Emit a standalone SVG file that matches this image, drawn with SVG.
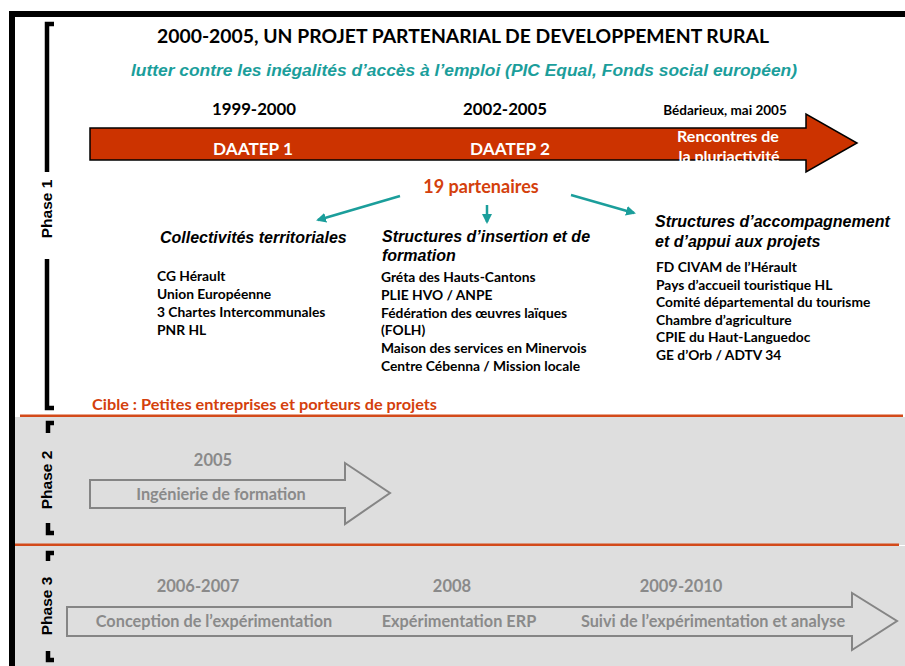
<svg xmlns="http://www.w3.org/2000/svg" width="905" height="666" viewBox="0 0 905 666">
<defs>
<style>
.cal{font-family:Lato,"Open Sans","Liberation Sans",sans-serif;font-weight:bold}
.ar{font-family:"Liberation Sans",Arial,sans-serif;font-weight:bold}
.it{font-style:italic}
.hd{font-size:16px}
.blk{fill:#000}
.wht{fill:#fff}
.teal{fill:#1B9E9B}
.org{fill:#D4400C}
.gry{fill:#8A8A8A}
.list{font-size:13.8px}
.gl{font-size:16.3px}
.brk{fill:none;stroke:#000;stroke-width:4.5}
.conn{stroke:#1B9E9B;stroke-width:2.5;fill:none}
.harrow{fill:#DEDEDE;stroke:#858585;stroke-width:2}
</style>
<marker id="ah" viewBox="0 0 10 10" refX="8" refY="5" markerWidth="4" markerHeight="4" orient="auto">
<path d="M0,0 L10,5 L0,10 z" fill="#1B9E9B"/>
</marker>
</defs>
<rect x="0" y="0" width="905" height="666" fill="#fff"/>
<!-- backgrounds -->
<rect x="15" y="417" width="890" height="128" fill="#DEDEDE"/>
<rect x="15" y="546" width="890" height="120" fill="#DEDEDE"/>
<rect x="20" y="414.5" width="883" height="2.5" fill="#D34A1A"/>
<rect x="15" y="543.5" width="884" height="2.5" fill="#D34A1A"/>
<!-- outer frame -->
<rect x="9" y="11" width="896" height="6" fill="#000"/>
<rect x="9" y="11" width="6" height="655" fill="#000"/>
<!-- phase brackets -->
<g id="phase1">
<path class="brk" d="M54,24 H47 V172"/>
<path class="brk" d="M47,259 V408 H54"/>
<text class="ar blk" font-size="15.5" transform="translate(52,209) rotate(-90)" text-anchor="middle">Phase 1</text>
</g>
<g id="phase2">
<path class="brk" d="M54,423 H48 V433"/>
<path class="brk" d="M48,523 V533 H54"/>
<text class="ar blk" font-size="15.5" transform="translate(52,480) rotate(-90)" text-anchor="middle">Phase 2</text>
</g>
<g id="phase3">
<path class="brk" d="M54,553 H48 V561"/>
<path class="brk" d="M48,651 V660 H54"/>
<text class="ar blk" font-size="15.5" transform="translate(52,606) rotate(-90)" text-anchor="middle">Phase 3</text>
</g>
<!-- header -->
<g id="title">
<text class="cal blk" x="463" y="43" font-size="18.5" text-anchor="middle" textLength="612" lengthAdjust="spacingAndGlyphs">2000-2005, UN PROJET PARTENARIAL DE DEVELOPPEMENT RURAL</text>
<text class="ar it teal" x="464" y="76" font-size="16" text-anchor="middle" textLength="666" lengthAdjust="spacingAndGlyphs">lutter contre les inégalités d’accès à l’emploi (PIC Equal, Fonds social européen)</text>
</g>
<!-- main arrow -->
<g id="timeline1">
<path d="M90,128 H806 V114 L857,143 L806,172 V160 H90 Z" fill="#CC3300" stroke="#000" stroke-width="1.5"/>
<text class="cal blk" x="254" y="115" font-size="16.8" text-anchor="middle">1999-2000</text>
<text class="cal blk" x="505" y="115" font-size="16.8" text-anchor="middle">2002-2005</text>
<text class="cal blk" x="725" y="115" font-size="13.5" text-anchor="middle">Bédarieux, mai 2005</text>
<text class="cal wht" x="253" y="155" font-size="17.2" text-anchor="middle">DAATEP 1</text>
<text class="cal wht" x="510" y="155" font-size="17.2" text-anchor="middle">DAATEP 2</text>
<text class="cal wht" x="728" y="142" font-size="16" text-anchor="middle">Rencontres de</text>
<text class="cal wht" x="729" y="162" font-size="16" text-anchor="middle">la pluriactivité</text>
</g>
<g id="partenaires">
<text class="cal org" x="481" y="193" font-size="18" text-anchor="middle">19 partenaires</text>
</g>
<g id="connectors">
<line class="conn" x1="400" y1="196" x2="318" y2="220" marker-end="url(#ah)"/>
<line class="conn" x1="487" y1="205" x2="487" y2="222" marker-end="url(#ah)"/>
<line class="conn" x1="571" y1="195" x2="634" y2="213" marker-end="url(#ah)"/>
</g>
<g id="collectivites">
<text class="ar it blk hd" x="160" y="243">Collectivités territoriales</text>
<text class="cal blk list" x="157" y="281">CG Hérault</text>
<text class="cal blk list" x="157" y="299">Union Européenne</text>
<text class="cal blk list" x="157" y="317">3 Chartes Intercommunales</text>
<text class="cal blk list" x="157" y="335">PNR HL</text>
</g>
<g id="insertion">
<text class="ar it blk hd" x="382" y="242">Structures d’insertion et de</text>
<text class="ar it blk hd" x="382" y="261">formation</text>
<text class="cal blk list" x="381" y="282">Gréta des Hauts-Cantons</text>
<text class="cal blk list" x="381" y="300">PLIE HVO / ANPE</text>
<text class="cal blk list" x="381" y="318">Fédération des œuvres laïques</text>
<text class="cal blk list" x="381" y="335">(FOLH)</text>
<text class="cal blk list" x="381" y="353">Maison des services en Minervois</text>
<text class="cal blk list" x="381" y="371">Centre Cébenna / Mission locale</text>
</g>
<g id="accompagnement">
<text class="ar it blk hd" x="655" y="227">Structures d’accompagnement</text>
<text class="ar it blk hd" x="655" y="247">et d’appui aux projets</text>
<text class="cal blk list" x="656" y="272">FD CIVAM de l’Hérault</text>
<text class="cal blk list" x="656" y="290">Pays d’accueil touristique HL</text>
<text class="cal blk list" x="656" y="307">Comité départemental du tourisme</text>
<text class="cal blk list" x="656" y="325">Chambre d’agriculture</text>
<text class="cal blk list" x="656" y="342">CPIE du Haut-Languedoc</text>
<text class="cal blk list" x="656" y="360">GE d’Orb / ADTV 34</text>
</g>
<g id="cible">
<text class="cal org" x="92" y="410" font-size="15" textLength="345" lengthAdjust="spacingAndGlyphs">Cible : Petites entreprises et porteurs de projets</text>
</g>
<g id="timeline2">
<text class="cal gry" x="213" y="466" font-size="16.5" text-anchor="middle">2005</text>
<path class="harrow" d="M90,480 H345 V463 L390,493 L345,524 V508 H90 Z"/>
<text class="cal gry gl" x="221" y="500" text-anchor="middle">Ingénierie de formation</text>
</g>
<g id="timeline3">
<text class="cal gry" x="198" y="592" font-size="16.5" text-anchor="middle">2006-2007</text>
<text class="cal gry" x="452" y="592" font-size="16.5" text-anchor="middle">2008</text>
<text class="cal gry" x="681" y="592" font-size="16.5" text-anchor="middle">2009-2010</text>
<path class="harrow" d="M67,607 H852 V593 L897,621 L852,650 V636 H67 Z"/>
<text class="cal gry gl" x="214" y="627" text-anchor="middle">Conception de l’expérimentation</text>
<text class="cal gry gl" x="459" y="627" text-anchor="middle">Expérimentation ERP</text>
<text class="cal gry gl" x="713" y="627" text-anchor="middle">Suivi de l’expérimentation et analyse</text>
</g>
</svg>
